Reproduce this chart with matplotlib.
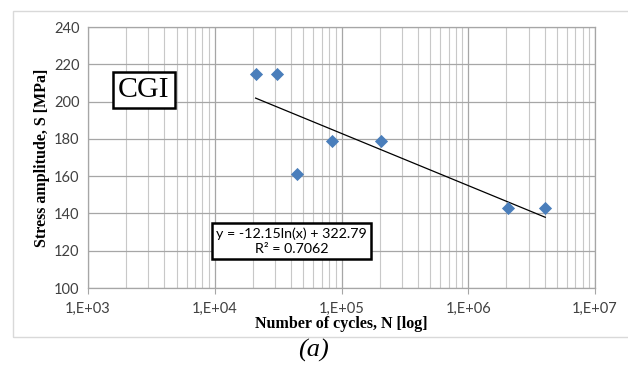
import matplotlib.pyplot as plt
from matplotlib.ticker import FixedLocator, LogLocator, NullFormatter
from matplotlib.patches import Rectangle
import numpy as np

# data
cycles = [2.1e4, 3.1e4, 4.45e4, 8.4e4, 2.05e5, 2.05e6, 4.05e6]
stress = [215, 215, 161, 179, 179, 143, 143]
trend_a, trend_b = -12.15, 322.79
y_ticks = [100, 120, 140, 160, 180, 200, 220, 240]
x_ticks = [1e3, 1e4, 1e5, 1e6, 1e7]
x_tick_labels = ['1,E+03', '1,E+04', '1,E+05', '1,E+06', '1,E+07']

fig = plt.figure(figsize=(6.28, 3.69), dpi=100)
ax = fig.add_axes([0.1401, 0.2195, 0.8074, 0.7073])

# outer chart frame
fig.add_artist(Rectangle((13 / 628, 1 - 337 / 369), 1.2, (337 - 11) / 369,
                         transform=fig.transFigure, fill=False,
                         edgecolor='#d9d9d9', linewidth=1))

ax.set_xscale('log')
ax.set_xlim(1e3, 1e7)
ax.set_ylim(100, 240)

ax.scatter(cycles, stress, marker='D', s=45, color='#4a7ebb', zorder=3,
           linewidths=0)

xt = np.array([min(cycles), max(cycles)])
ax.plot(xt, trend_a * np.log(xt) + trend_b, color='black', linewidth=0.9,
        zorder=2)

ax.xaxis.set_major_locator(FixedLocator(x_ticks))
ax.set_xticklabels(x_tick_labels)
ax.xaxis.set_minor_locator(LogLocator(base=10, subs=range(2, 10)))
ax.xaxis.set_minor_formatter(NullFormatter())
ax.set_yticks(y_ticks)

ax.grid(True, which='major', color='#a6a6a6', linewidth=0.9)
ax.grid(True, which='minor', axis='x', color='#c8c8c8', linewidth=0.8)
ax.set_axisbelow(True)
for s in ax.spines.values():
    s.set_color('#a6a6a6')
    s.set_linewidth(0.9)

ax.tick_params(axis='both', which='both', length=0, labelsize=10.5,
               labelcolor='#404040', pad=6)
ax.tick_params(axis='x', which='major', length=4, color='#a6a6a6')
for lab in ax.get_xticklabels() + ax.get_yticklabels():
    lab.set_family('Lato')

ax.set_xlabel('Number of cycles, N [log]', family='Liberation Serif',
              fontweight='bold', fontsize=11.5, labelpad=0)
ax.set_ylabel('Stress amplitude, S [MPa]', family='Liberation Serif',
              fontweight='bold', fontsize=11.5, labelpad=3)

ax.text(0.110, 0.76, 'CGI', transform=ax.transAxes, family='Liberation Serif',
        fontsize=21.5, va='center', ha='center',
        bbox=dict(boxstyle='square,pad=0.17', facecolor='white',
                  edgecolor='black', linewidth=1.8))

ax.text(0.402, 0.18, 'y = -12.15ln(x) + 322.79\nR² = 0.7062',
        transform=ax.transAxes, family='Lato', fontsize=10.3, va='center',
        ha='center', multialignment='center', linespacing=1.25,
        bbox=dict(boxstyle='square,pad=0.3', facecolor='white',
                  edgecolor='black', linewidth=1.8))

fig.text(313 / 628, 1 - 350 / 369, '(a)', family='Liberation Serif',
         style='italic', fontsize=19, ha='center', va='center')

fig.savefig('out.png', dpi=100)
